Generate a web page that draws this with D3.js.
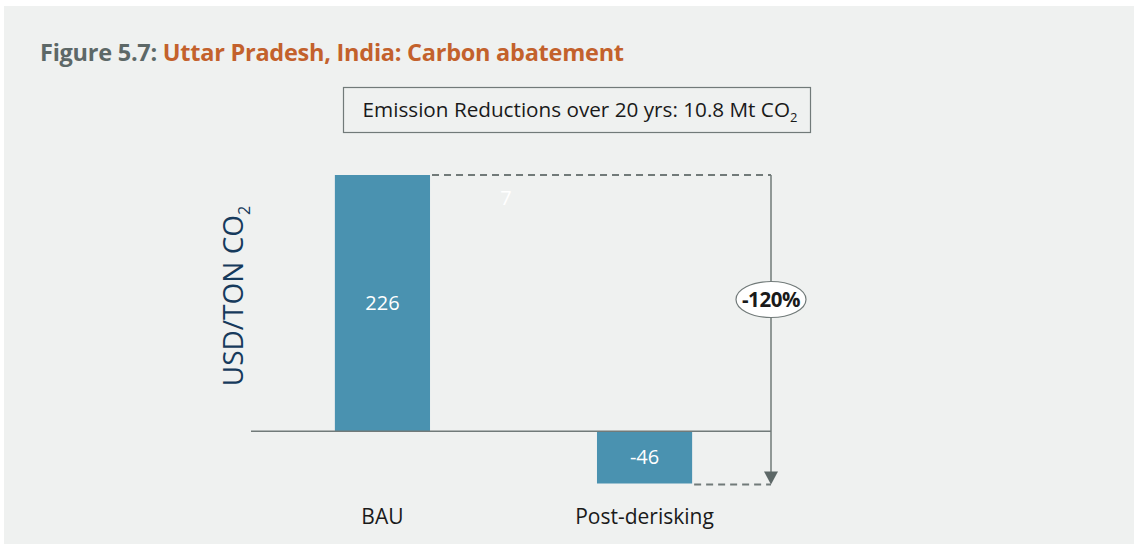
<!DOCTYPE html>
<html>
<head>
<meta charset="utf-8">
<script src="https://cdn.jsdelivr.net/npm/d3@7"></script>
<style>
  body { margin: 0; background: #fff; }
  svg { display: block; font-family: "Open Sans", sans-serif; }
</style>
</head>
<body>
<svg id="chart"></svg>
<script>
const categories = ['BAU', 'Post-derisking'];
const values = [226, -46];
const barLabels = ['226', '-46'];
const gapLabel = '7';
const changeLabel = '-120%';
const titlePrefix = 'Figure 5.7: ';
const titleMain = 'Uttar Pradesh, India: Carbon abatement';
const noteText = 'Emission Reductions over 20 yrs: 10.8 Mt CO';

const width = 1134;
const height = 544;

const svg = d3.select('svg#chart')
    .attr('width', width)
    .attr('height', height);

svg.append('rect')
    .attr('x', 4).attr('y', 6)
    .attr('width', width - 4).attr('height', height - 6)
    .attr('fill', '#eff1f0');

// title
const title = svg.append('text')
    .attr('x', 40).attr('y', 61)
    .attr('font-size', 23.5)
    .attr('font-weight', 700)
    .attr('letter-spacing', -0.25);
title.append('tspan').attr('fill', '#5d6867').text(titlePrefix);
title.append('tspan').attr('fill', '#c3612c').text(titleMain);

// note box
svg.append('rect')
    .attr('x', 343.5).attr('y', 87.5)
    .attr('width', 467).attr('height', 45)
    .attr('fill', 'none')
    .attr('stroke', '#717a79')
    .attr('stroke-width', 1.2);
const note = svg.append('text')
    .attr('x', 580).attr('y', 117)
    .attr('text-anchor', 'middle')
    .attr('font-size', 20.7)
    .attr('fill', '#1a1a1a');
note.append('tspan').text(noteText);
note.append('tspan').attr('font-size', 13).attr('dy', 5).text('2');

const x = d3.scaleBand()
    .domain(categories)
    .range([251, 776])
    .paddingInner(0.637)
    .paddingOuter(0.32);

const y = d3.scaleLinear()
    .domain([-46, 226])
    .range([483.5, 175]);

const barColor = '#4a92b0';
const lineColor = '#717a79';

svg.append('g')
    .selectAll('rect')
    .data(categories)
    .join('rect')
    .attr('x', d => x(d))
    .attr('width', x.bandwidth())
    .attr('y', (d, i) => y(Math.max(0, values[i])))
    .attr('height', (d, i) => Math.abs(y(values[i]) - y(0)))
    .attr('fill', barColor);

// zero line
svg.append('line')
    .attr('x1', 251).attr('x2', 771)
    .attr('y1', y(0)).attr('y2', y(0))
    .attr('stroke', lineColor)
    .attr('stroke-width', 1.5);

svg.append('g')
    .selectAll('text')
    .data(categories)
    .join('text')
    .attr('x', d => x(d) + x.bandwidth() / 2)
    .attr('y', (d, i) => (y(values[i]) + y(0)) / 2 + 7)
    .attr('text-anchor', 'middle')
    .attr('font-size', 20)
    .attr('fill', '#fff')
    .text((d, i) => barLabels[i]);

// category labels
svg.append('g')
    .selectAll('text')
    .data(categories)
    .join('text')
    .attr('x', d => x(d) + x.bandwidth() / 2)
    .attr('y', 524)
    .attr('text-anchor', 'middle')
    .attr('font-size', 21)
    .attr('fill', '#1a1a1a')
    .text(d => d);

// y axis title
const yTitle = svg.append('text')
    .attr('transform', 'translate(243,296) rotate(-90)')
    .attr('text-anchor', 'middle')
    .attr('font-size', 28)
    .attr('fill', '#163a5c');
yTitle.append('tspan').text('USD/TON CO');
yTitle.append('tspan').attr('font-size', 16).attr('dy', 7).text('2');

// bridge
const arrowX = 771;
const bauRight = x(categories[0]) + x.bandwidth();
const postRight = x(categories[1]) + x.bandwidth();

svg.append('line')
    .attr('x1', bauRight + 2).attr('x2', arrowX)
    .attr('y1', y(values[0])).attr('y2', y(values[0]))
    .attr('stroke', lineColor).attr('stroke-width', 2)
    .attr('stroke-dasharray', '7,5');
svg.append('line')
    .attr('x1', postRight + 2).attr('x2', arrowX)
    .attr('y1', y(values[1]) + 1).attr('y2', y(values[1]) + 1)
    .attr('stroke', lineColor).attr('stroke-width', 2)
    .attr('stroke-dasharray', '7,5');

svg.append('line')
    .attr('x1', arrowX).attr('x2', arrowX)
    .attr('y1', y(values[0])).attr('y2', y(values[1]) - 10)
    .attr('stroke', lineColor).attr('stroke-width', 1.5);
svg.append('path')
    .attr('d', `M${arrowX - 7},${y(values[1]) - 12}L${arrowX + 7},${y(values[1]) - 12}L${arrowX},${y(values[1]) + 1}Z`)
    .attr('fill', '#5d6867');

svg.append('text')
    .attr('x', 506).attr('y', 205)
    .attr('text-anchor', 'middle')
    .attr('font-size', 20)
    .attr('fill', '#fff')
    .text(gapLabel);

svg.append('ellipse')
    .attr('cx', arrowX).attr('cy', 299.5)
    .attr('rx', 35).attr('ry', 18)
    .attr('fill', '#fff')
    .attr('stroke', lineColor)
    .attr('stroke-width', 1.2);
svg.append('text')
    .attr('x', arrowX).attr('y', 307)
    .attr('text-anchor', 'middle')
    .attr('font-size', 20.5)
    .attr('font-weight', 700)
    .attr('letter-spacing', -0.4)
    .attr('fill', '#1a1a1a')
    .text(changeLabel);
</script>
</body>
</html>
